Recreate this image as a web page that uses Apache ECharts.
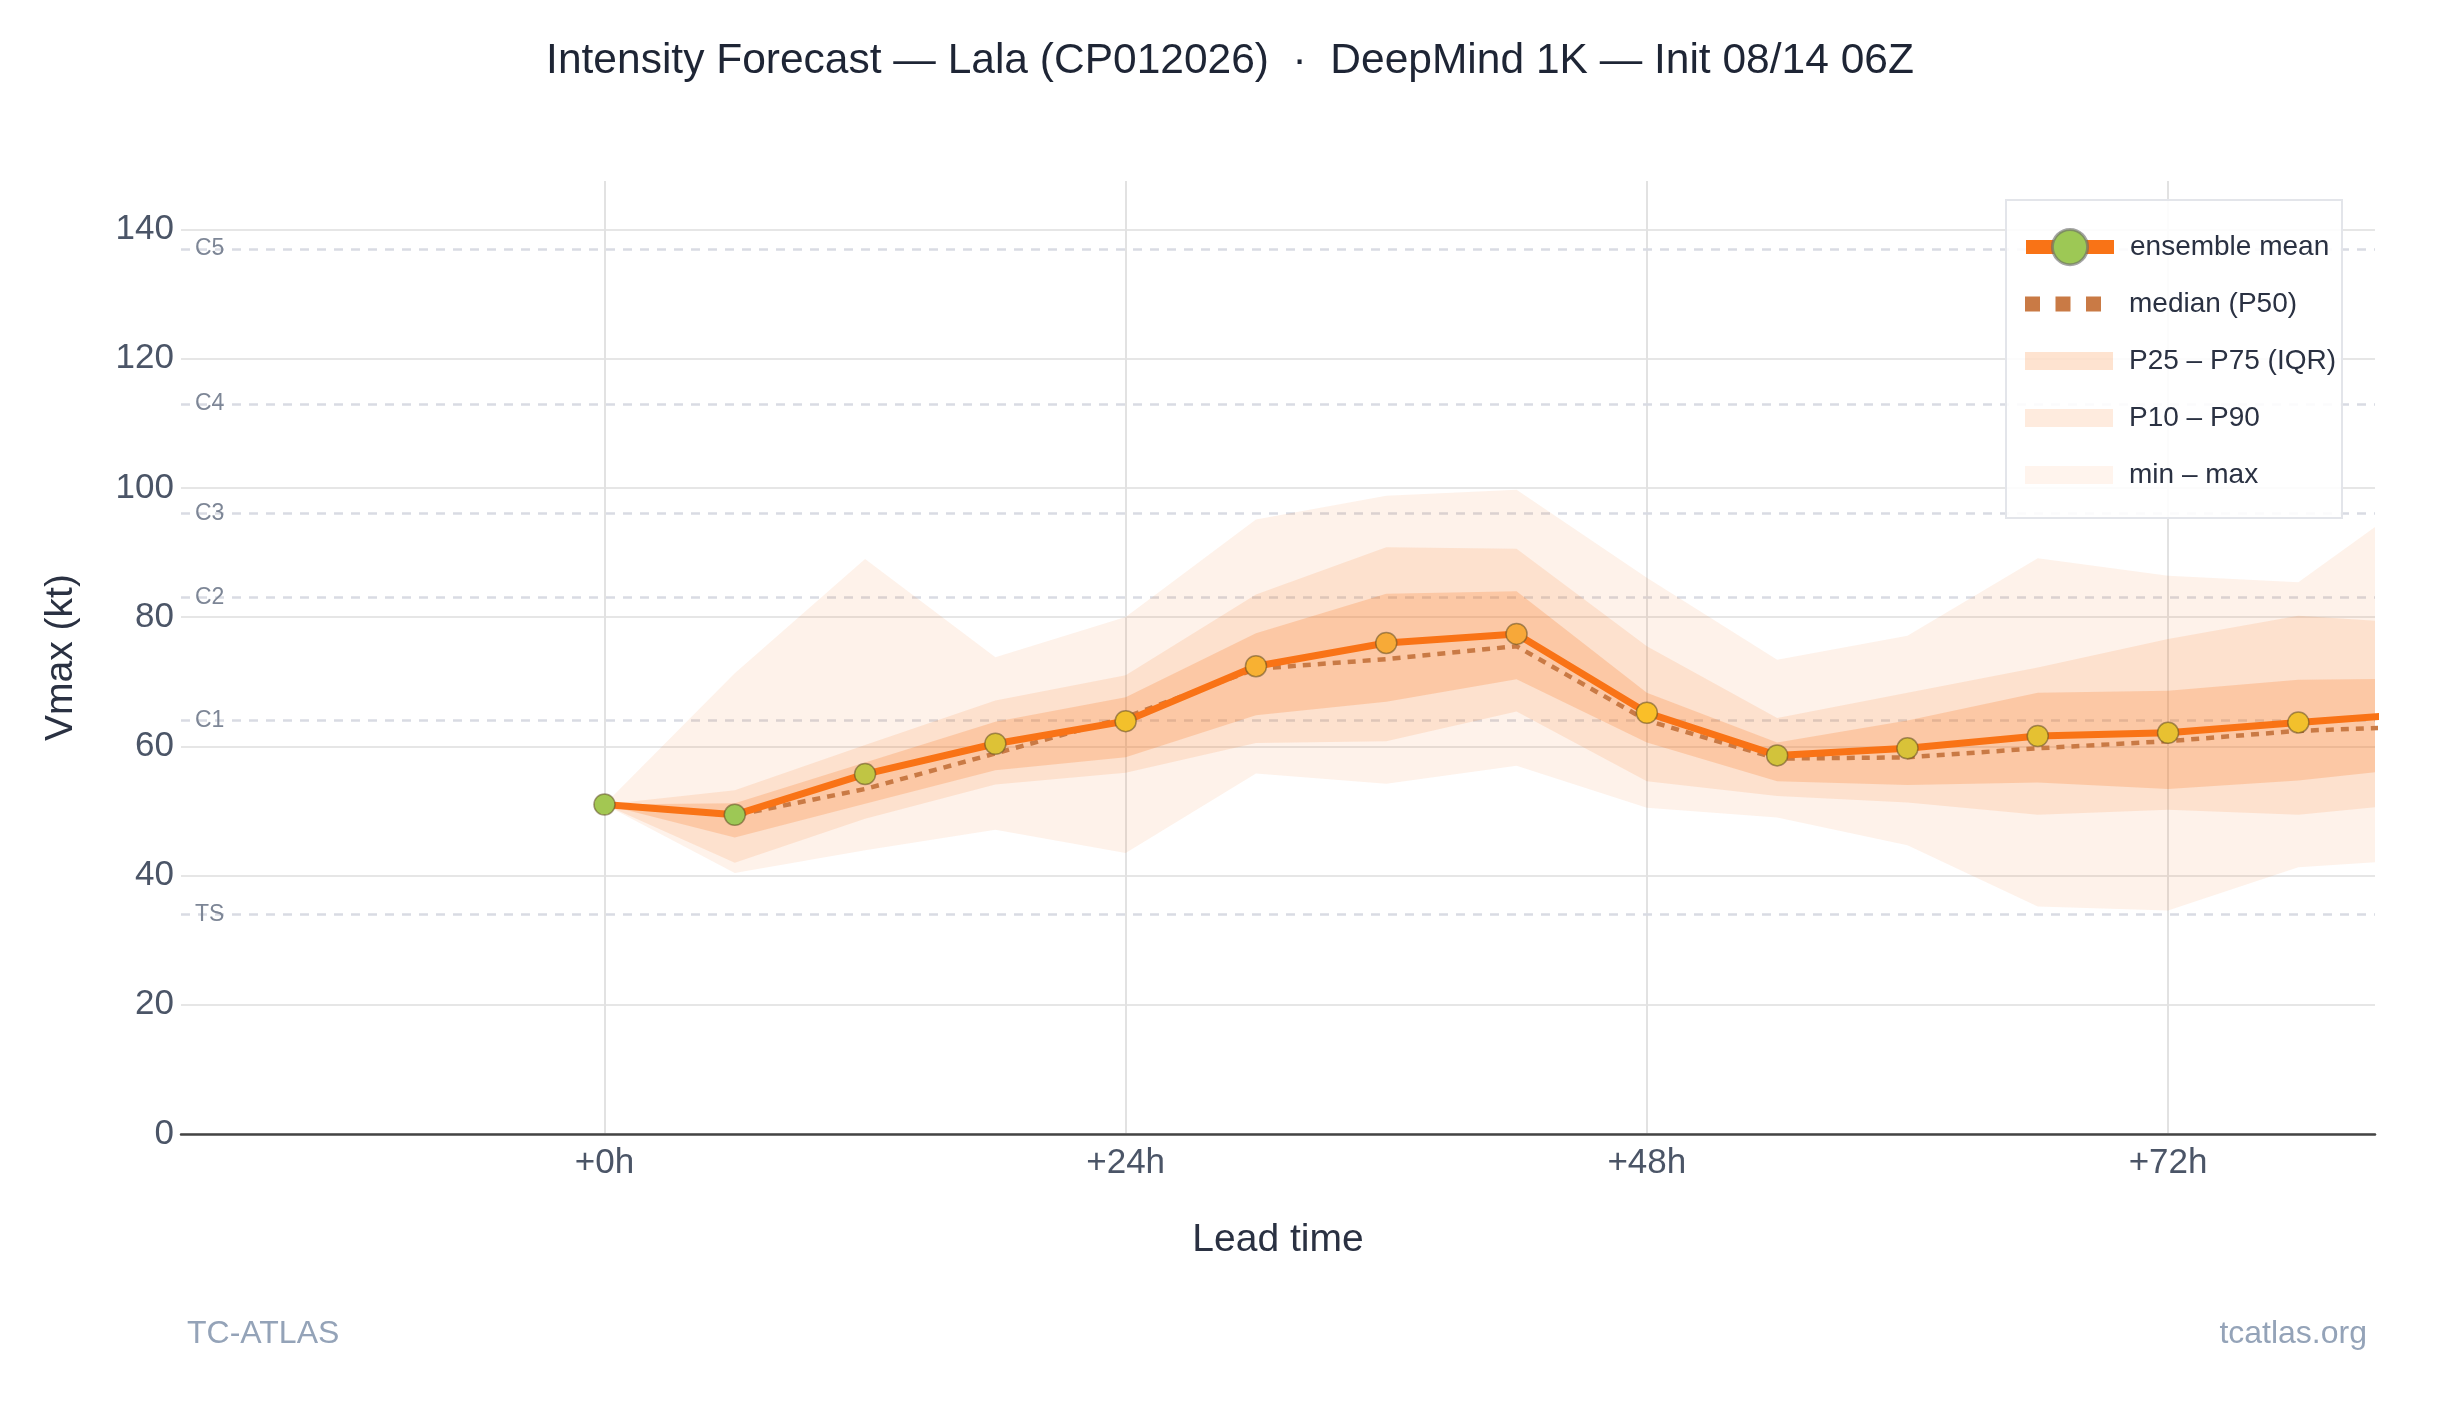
<!DOCTYPE html>
<html>
<head>
<meta charset="utf-8">
<script src="https://cdn.jsdelivr.net/npm/echarts@6/dist/echarts.min.js"></script>
<style>
  html, body { margin: 0; padding: 0; background: #ffffff; }
  #chart { width: 2460px; height: 1410px; }
</style>
</head>
<body>
<div id="chart"></div>
<script>
// ---- data ----
const leadHours = [0, 6, 12, 18, 24, 30, 36, 42, 48, 54, 60, 66, 72, 78, 84];
const meanVmax   = [51.0, 49.4, 55.7, 60.4, 63.9, 72.4, 76.0, 77.4, 65.2, 58.6, 59.7, 61.6, 62.1, 63.7, 65.2];
const medianVmax = [51.0, 49.3, 53.4, 58.9, 64.5, 72.0, 73.5, 75.5, 64.0, 58.1, 58.3, 59.7, 60.8, 62.4, 63.1];
const p25Vmax    = [51.0, 45.9, 51.1, 56.3, 58.3, 64.8, 66.9, 70.4, 60.6, 54.6, 54.0, 54.4, 53.4, 54.7, 56.9];
const p75Vmax    = [51.0, 51.2, 57.5, 63.8, 67.6, 77.5, 83.6, 84.0, 68.3, 60.6, 64.0, 68.3, 68.6, 70.3, 70.5];
const p10Vmax    = [51.0, 42.0, 48.8, 54.1, 55.9, 60.5, 60.8, 65.4, 54.6, 52.3, 51.3, 49.4, 50.2, 49.4, 51.4];
const p90Vmax    = [51.0, 53.2, 60.2, 67.1, 71.0, 83.5, 90.8, 90.6, 75.5, 64.4, 68.3, 72.2, 76.6, 80.2, 78.9];
const minVmax    = [51.0, 40.4, 43.9, 47.1, 43.5, 55.8, 54.2, 57.0, 50.5, 49.0, 44.7, 35.2, 34.6, 41.3, 42.6];
const maxVmax    = [51.0, 71.3, 89.0, 73.8, 80.0, 95.1, 98.8, 99.7, 86.1, 73.4, 77.1, 89.1, 86.4, 85.4, 99.9];

const xTickValues = [0, 24, 48, 72];
const yTickValues = [0, 20, 40, 60, 80, 100, 120, 140];
const categoryLevels = [34, 64, 83, 96, 113, 137];
const categoryNames  = ['TS', 'C1', 'C2', 'C3', 'C4', 'C5'];

const titleText = 'Intensity Forecast \u2014 Lala (CP012026)  \u00b7  DeepMind 1K \u2014 Init 08/14 06Z';

// ---- helpers ----
const pairs = (arr) => leadHours.map((h, i) => [h, arr[i]]);

const FONT = "'Liberation Sans', Arial, Helvetica, sans-serif";
const ORANGE = '#f97316';
const bandMM  = 'rgba(249,115,22,0.09)';
const bandP   = 'rgba(249,115,22,0.13)';
const bandIQR = 'rgba(249,115,22,0.22)';
const medianColor = '#c97a45';

// band drawn as one polygon through the axes' own coordinate mapping
function bandSeries(name, hi, lo, color) {
  return {
    name: name, type: 'custom', clip: true, silent: true, z: 2,
    itemStyle: { color: color },
    data: [[leadHours[0], lo[0]]],
    renderItem: function (params, api) {
      if (params.dataIndex !== 0) return null;
      const upper = leadHours.map((h, i) => api.coord([h, hi[i]]));
      const lower = leadHours.map((h, i) => api.coord([h, lo[i]])).reverse();
      return { type: 'polygon', shape: { points: upper.concat(lower) }, style: { fill: color } };
    }
  };
}

const chart = echarts.init(document.getElementById('chart'), null, { renderer: 'canvas' });

const option = {
  animation: false,
  backgroundColor: '#ffffff',
  textStyle: { fontFamily: FONT },
  title: [
    { text: titleText, left: 'center', top: 40, padding: 0,
      textStyle: { fontSize: 42.5, fontWeight: 'normal', color: '#1e2535', fontFamily: FONT } },
    { text: 'TC-ATLAS', left: 187, top: 1318, padding: 0,
      textStyle: { fontSize: 32, fontWeight: 'normal', color: '#94a3b8', fontFamily: FONT } },
    { text: 'tcatlas.org', right: 93, top: 1318, padding: 0,
      textStyle: { fontSize: 32, fontWeight: 'normal', color: '#94a3b8', fontFamily: FONT } }
  ],
  grid: { left: 181, right: 85, top: 181, bottom: 276, containLabel: false },
  xAxis: {
    type: 'value', min: -19.5, max: 81.53,
    name: 'Lead time', nameLocation: 'middle', nameGap: 87,
    nameTextStyle: { fontSize: 39, color: '#2a3142', fontFamily: FONT },
    axisLine: { show: true, onZero: false, lineStyle: { color: '#444444', width: 2.5 } },
    axisTick: { show: false, customValues: xTickValues },
    axisLabel: { customValues: xTickValues, fontSize: 35, color: '#4b5567', margin: 12,
      formatter: (v) => '+' + v + 'h' },
    splitLine: { show: true, lineStyle: { color: '#e2e2e2', width: 2 } }
  },
  yAxis: {
    type: 'value', min: 0, max: 147.5,
    name: 'Vmax (kt)', nameLocation: 'middle', nameGap: 100,
    nameTextStyle: { fontSize: 39, color: '#2a3142', fontFamily: FONT },
    axisLine: { show: false },
    axisTick: { show: false, customValues: yTickValues },
    axisLabel: { customValues: yTickValues, fontSize: 35, color: '#4b5567', margin: 7 },
    splitLine: { show: true, lineStyle: { color: '#e6e6e6', width: 2 } }
  },
  visualMap: {
    show: false, type: 'continuous', seriesIndex: 5, dimension: 1,
    min: 50, max: 80,
    inRange: { color: ['#9dc855', '#fabf28', '#f6a33c'] }
  },
  legend: [
    {
      data: [{ name: 'ensemble mean',
               lineStyle: { width: 14, color: ORANGE },
               itemStyle: { color: '#9dc855', borderColor: 'rgba(105,105,105,0.6)', borderWidth: 3 } }],
      orient: 'vertical', left: 2019, top: 228, padding: 0,
      itemWidth: 88, itemHeight: 44, z: 10, selectedMode: false,
      textStyle: { fontSize: 28, color: '#2a3142', padding: [0, 0, 0, 11], fontFamily: FONT }
    },
    {
      data: [
        { name: 'median (P50)',
          icon: 'path://M0,1.5h15v15h-15zM30.5,1.5h15v15h-15zM61,1.5h15v15h-15zM0,0L0,0M88,18L88,18',
          itemStyle: { color: medianColor, borderWidth: 0 } },
        { name: 'P25 \u2013 P75 (IQR)', icon: 'rect', itemStyle: { color: 'rgba(249,115,22,0.2)', borderWidth: 0 } },
        { name: 'P10 \u2013 P90', icon: 'rect', itemStyle: { color: 'rgba(249,115,22,0.14)', borderWidth: 0 } },
        { name: 'min \u2013 max', icon: 'rect', itemStyle: { color: 'rgba(249,115,22,0.08)', borderWidth: 0 } }
      ],
      orient: 'vertical', left: 2025, top: 290, padding: 0, itemGap: 29,
      itemWidth: 88, itemHeight: 18, z: 10, selectedMode: false,
      textStyle: { fontSize: 28, color: '#2a3142', padding: [0, 0, 0, 11], fontFamily: FONT }
    }
  ],
  graphic: [
    { type: 'rect', z: 9, silent: true,
      shape: { x: 2006, y: 200, width: 336, height: 318 },
      style: { fill: 'rgba(255,255,255,0.88)', stroke: '#e3e5ea', lineWidth: 2 } }
  ],
  series: [
    bandSeries('min \u2013 max', maxVmax, minVmax, bandMM),           // 0
    bandSeries('P10 \u2013 P90', p90Vmax, p10Vmax, bandP),            // 1
    bandSeries('P25 \u2013 P75 (IQR)', p75Vmax, p25Vmax, bandIQR),    // 2
    // 3: median
    { name: 'median (P50)', type: 'line', data: pairs(medianVmax), symbol: 'none',
      lineStyle: { color: medianColor, width: 4.5, type: [8, 7] },
      itemStyle: { color: medianColor }, silent: true, emphasis: { disabled: true }, z: 3,
      markLine: {
        silent: true, symbol: ['none', 'none'], animation: false, z: 1,
        lineStyle: { type: [9, 8], color: '#d9dbe3', width: 2.5 },
        label: { show: true, position: 'insideStart', distance: 14, formatter: '{b}',
                 color: '#7d8696', fontSize: 23, fontFamily: FONT },
        emphasis: { disabled: true },
        data: categoryLevels.map((v, i) => ({ yAxis: v, name: categoryNames[i] }))
      } },
    // 4: ensemble mean line
    { name: 'ensemble mean', type: 'line', data: pairs(meanVmax), symbol: 'circle', showSymbol: false,
      lineStyle: { color: ORANGE, width: 7 },
      itemStyle: { color: '#9dc855', borderColor: 'rgba(105,105,105,0.6)', borderWidth: 3 },
      silent: true, emphasis: { disabled: true }, z: 3 },
    // 5: ensemble mean markers (coloured by intensity)
    { name: '_meanMarkers', type: 'scatter', data: pairs(meanVmax), symbol: 'circle', symbolSize: 21,
      itemStyle: { borderColor: 'rgba(95,75,35,0.55)', borderWidth: 1.5, opacity: 1 },
      clip: true, silent: true, emphasis: { disabled: true }, z: 4 }
  ]
};

chart.setOption(option);
</script>
</body>
</html>
